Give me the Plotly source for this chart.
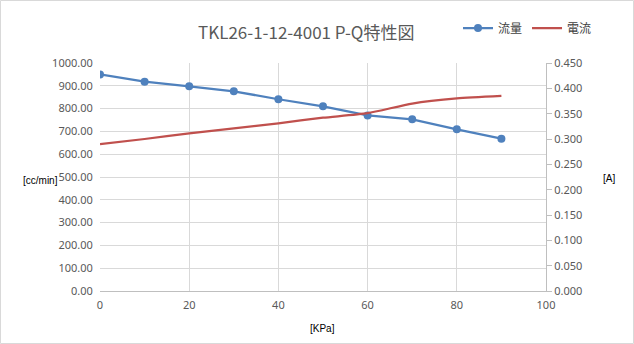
import plotly.graph_objects as go

pressure = [0, 10, 20, 30, 40, 50, 60, 70, 80, 90]
flow = [950, 918, 898, 876, 841, 810, 770, 753, 709, 668]
current = [0.290, 0.300, 0.311, 0.321, 0.331, 0.342, 0.351, 0.370, 0.380, 0.385]

W, H = 634, 344
L, R, T, B = 100, 88, 63, 53
pw = W - L - R
ph = H - T - B

def px(x):
    return (x - L) / pw

def py(y):
    return (H - B - y) / ph

fig = go.Figure()
fig.add_trace(go.Scatter(x=pressure, y=flow, name="流量", mode="lines+markers",
                         line=dict(color="#4f81bd", width=2.25),
                         marker=dict(size=8, color="#4f81bd")))
fig.add_trace(go.Scatter(x=pressure, y=current, name="電流", mode="lines", yaxis="y2",
                         line=dict(color="#c0504d", width=2.25, shape="spline", smoothing=0.6)))

tickfont = dict(family="Noto Sans, DejaVu Sans, sans-serif", size=11, color="#595959")

def ann(text, x, y, size, family, color):
    return dict(text=text, x=px(x), y=py(y), xref="paper", yref="paper",
                xanchor="center", yanchor="middle", showarrow=False,
                font=dict(family=family, size=size, color=color))

fig.update_layout(
    width=W, height=H,
    margin=dict(l=L, r=R, t=T, b=B),
    paper_bgcolor="white", plot_bgcolor="white",
    showlegend=True,
    legend=dict(orientation="h", x=px(458), y=py(28), xanchor="left", yanchor="middle",
                font=dict(family="Noto Sans CJK JP", size=12, color="#404040"),
                itemwidth=30, bgcolor="rgba(0,0,0,0)", tracegroupgap=0),
    xaxis=dict(range=[0, 100], dtick=20, tick0=0, showgrid=True, gridcolor="#d9d9d9",
               showline=True, linecolor="#bfbfbf", zeroline=False, tickfont=tickfont,
               ticks="outside", ticklen=4, tickcolor="rgba(0,0,0,0)", fixedrange=True),
    yaxis=dict(range=[0, 1000], dtick=100, tickformat=".2f", showgrid=True, gridcolor="#d9d9d9",
               showline=False, zeroline=False, tickfont=tickfont, ticks="outside",
               ticklen=4, tickcolor="rgba(0,0,0,0)"),
    yaxis2=dict(range=[0, 0.45], dtick=0.05, tickformat=".3f", overlaying="y", side="right",
                showgrid=False, showline=True, linecolor="#bfbfbf", zeroline=False,
                ticks="outside", ticklen=5, tickcolor="#bfbfbf", tickfont=tickfont),
    annotations=[
        ann("TKL26-1-12-4001 P-Q特性図", 306, 31, 17, "Noto Sans CJK JP", "#595959"),
        ann("[cc/min]", 40, 180, 10, "Liberation Sans, Arial", "#000000"),
        ann("[A]", 609, 178, 10, "Liberation Sans, Arial", "#000000"),
        ann("[KPa]", 322, 328, 10, "Liberation Sans, Arial", "#000000"),
    ],
    shapes=[dict(type="rect", xref="paper", yref="paper",
                 x0=px(0.5), x1=px(W - 0.5), y0=py(H - 0.5), y1=py(0.5),
                 line=dict(color="#d9d9d9", width=1), fillcolor="rgba(0,0,0,0)", layer="below")],
)

fig.write_html("out.html")
